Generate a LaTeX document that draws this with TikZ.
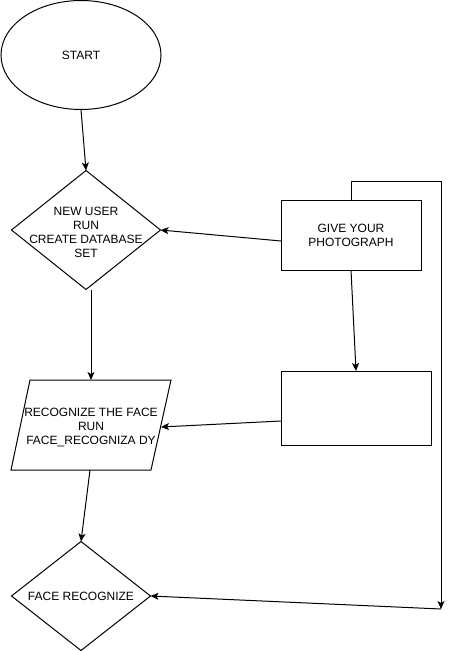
\documentclass[tikz,border=0pt]{standalone}
\usepackage{fontspec}
\setmainfont{Liberation Sans}
\usetikzlibrary{shapes.geometric,arrows.meta}
\begin{document}
\begin{tikzpicture}[x=1pt,y=-1pt,
  lbl/.style={align=center,font=\fontsize{12}{14}\selectfont,inner sep=0},
  shp/.style={draw,line width=1pt,inner sep=0,outer sep=0},
  arr/.style={line width=1pt,-{Stealth[length=8pt,width=7pt,inset=2pt]}}]
\useasboundingbox (0,0) rectangle (450,651);
% shapes
\node[shp,ellipse,minimum width=160,minimum height=109] (start) at (81,55) {};
\node[lbl] at (start) {START};
\node[shp,diamond,minimum width=149,minimum height=119] (d1) at (86,230) {};
\node[lbl] at (86,232) {NEW USER\\RUN\\CREATE DATABASE\\SET};
\node[shp,rectangle,minimum width=140,minimum height=70] (give) at (351,235) {};
\node[lbl] at (give) {GIVE YOUR\\PHOTOGRAPH};
\node[shp,rectangle,minimum width=150,minimum height=74] (b2) at (356,408) {};
\draw[line width=1pt] (30,380) -- (171,380) -- (151,470) -- (11,470) -- cycle;
\node[lbl] (para) at (91,427) {RECOGNIZE THE FACE\\RUN\\FACE\_RECOGNIZA DY};
\coordinate (ptop) at (91,380);
\coordinate (pright) at (161,427);
\coordinate (pbot) at (90,470);
\node[shp,diamond,minimum width=139,minimum height=109] (d2) at (81,596) {};
\node[lbl] at (d2) {FACE RECOGNIZE};
\coordinate (loopend) at (441,609);
% connectors
\draw[arr] (start.south) -- (d1.north);
\draw[arr] ([yshift=-6pt]give.west) -- (d1.east);
\draw[arr] (give.south) -- (b2.north);
\draw[arr] (d1.south -| ptop) -- (ptop);
\draw[arr] ([yshift=-13pt]b2.west) -- (pright);
\draw[arr] (pbot) -- (d2.north);
\draw[arr] (give.north) -- ++(0,-19) -| (loopend);
\draw[arr] (loopend) -- (d2.east);
\end{tikzpicture}
\end{document}
